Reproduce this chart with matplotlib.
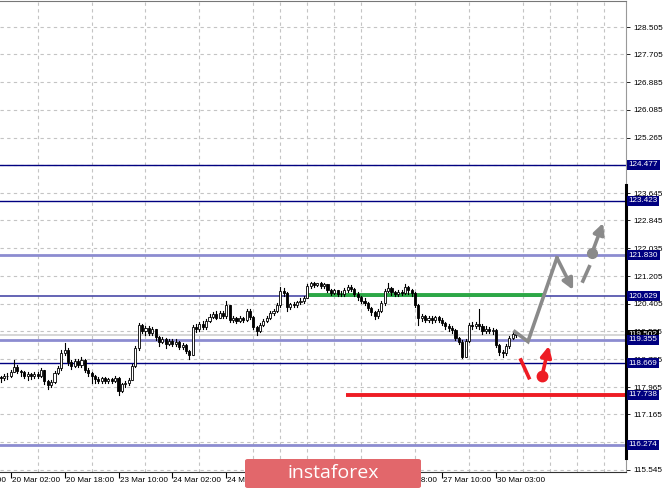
import matplotlib.pyplot as plt
import matplotlib.transforms as mtransforms
from matplotlib.patches import FancyBboxPatch

# H1 candles (open = previous close)
first_open = 118.26
closes = [118.22, 118.30, 118.28, 118.42, 118.56, 118.44, 118.40, 118.30, 118.34, 118.28,
          118.36, 118.30, 118.46, 118.15, 118.02, 118.12, 118.38, 118.52, 118.95, 119.05,
          118.70, 118.58, 118.72, 118.60, 118.76, 118.48, 118.38, 118.30, 118.20, 118.14,
          118.22, 118.15, 118.20, 118.15, 118.22, 117.85, 118.05, 118.08, 118.18, 118.58,
          119.10, 119.78, 119.62, 119.70, 119.55, 119.66, 119.42, 119.30, 119.36, 119.24,
          119.32, 119.22, 119.30, 119.14, 119.20, 119.02, 118.92, 119.72, 119.68, 119.82,
          119.72, 119.90, 120.02, 120.10, 120.00, 120.14, 120.06, 120.36, 119.92, 119.98,
          119.90, 119.98, 119.94, 120.18, 120.02, 119.72, 119.62, 119.78, 119.90, 120.00,
          120.14, 120.20, 120.36, 120.78, 120.72, 120.30, 120.40, 120.36, 120.46, 120.50,
          120.58, 120.92, 121.00, 120.96, 121.00, 120.94, 120.98, 120.80, 120.72, 120.80,
          120.70, 120.68, 120.80, 120.90, 120.84, 120.70, 120.60, 120.48, 120.44, 120.28,
          120.16, 120.04, 120.20, 120.42, 120.78, 120.86, 120.74, 120.70, 120.76, 120.72,
          120.90, 120.80, 120.72, 120.36, 119.98, 120.04, 119.94, 120.00, 119.92, 120.02,
          119.94, 119.84, 119.74, 119.70, 119.64, 119.40, 119.30, 118.86, 119.32, 119.78,
          119.74, 119.80, 119.76, 119.62, 119.68, 119.60, 119.64, 119.20, 119.00, 118.96,
          119.16, 119.40, 119.52, 119.50]
highs = [118.30, 118.36, 118.38, 118.48, 118.77, 118.60, 118.48, 118.44, 118.40, 118.38,
         118.42, 118.40, 118.52, 118.48, 118.18, 118.18, 118.44, 118.58, 119.05, 119.26,
         119.10, 118.75, 118.78, 118.80, 118.84, 118.78, 118.52, 118.40, 118.32, 118.26,
         118.26, 118.26, 118.24, 118.24, 118.30, 118.26, 118.10, 118.14, 118.22, 118.64,
         119.16, 119.85, 119.82, 119.76, 119.76, 119.72, 119.68, 119.46, 119.42, 119.40,
         119.38, 119.36, 119.36, 119.32, 119.26, 119.22, 119.06, 119.78, 119.80, 119.86,
         119.90, 119.96, 120.10, 120.16, 120.20, 120.20, 120.18, 120.50, 120.38, 120.04,
         120.02, 120.04, 120.02, 120.24, 120.26, 120.06, 119.76, 119.84, 119.96, 120.06,
         120.18, 120.26, 120.42, 120.90, 120.86, 120.76, 120.44, 120.46, 120.50, 120.56,
         120.62, 120.98, 121.04, 121.04, 121.02, 121.04, 121.02, 120.98, 120.84, 120.84,
         120.82, 120.78, 120.86, 120.96, 120.96, 120.86, 120.74, 120.64, 120.56, 120.46,
         120.32, 120.18, 120.24, 120.48, 120.84, 121.00, 120.90, 120.78, 120.80, 120.82,
         120.98, 120.92, 120.84, 120.74, 120.40, 120.10, 120.08, 120.06, 120.04, 120.06,
         120.06, 119.98, 119.88, 119.80, 119.76, 119.66, 119.44, 119.34, 119.38, 119.84,
         119.86, 119.86, 120.26, 119.80, 119.74, 119.72, 119.70, 119.66, 119.24, 119.06,
         119.22, 119.46, 119.58, 119.56]
lows = [118.12, 118.18, 118.20, 118.25, 118.40, 118.38, 118.30, 118.22, 118.18, 118.20,
        118.24, 118.22, 118.26, 118.05, 117.92, 117.98, 118.08, 118.34, 118.48, 118.90,
        118.62, 118.50, 118.55, 118.55, 118.56, 118.40, 118.30, 118.10, 118.08, 118.08,
        118.10, 118.10, 118.10, 118.08, 118.12, 117.73, 117.82, 117.98, 118.04, 118.16,
        118.55, 119.05, 119.55, 119.50, 119.50, 119.48, 119.35, 119.18, 119.26, 119.10,
        119.20, 119.18, 119.16, 119.08, 119.08, 118.96, 118.80, 118.90, 119.58, 119.62,
        119.66, 119.68, 119.86, 119.98, 119.96, 119.98, 120.00, 119.98, 119.86, 119.88,
        119.84, 119.88, 119.86, 119.90, 119.96, 119.66, 119.50, 119.58, 119.74, 119.86,
        119.96, 120.08, 120.16, 120.32, 120.64, 120.20, 120.26, 120.30, 120.32, 120.40,
        120.44, 120.56, 120.88, 120.90, 120.92, 120.88, 120.88, 120.74, 120.66, 120.68,
        120.62, 120.62, 120.64, 120.76, 120.78, 120.64, 120.52, 120.42, 120.36, 120.22,
        120.08, 119.97, 120.00, 120.16, 120.38, 120.74, 120.66, 120.62, 120.64, 120.66,
        120.68, 120.70, 120.62, 120.30, 119.78, 119.90, 119.86, 119.88, 119.84, 119.86,
        119.88, 119.78, 119.66, 119.62, 119.56, 119.34, 119.24, 118.83, 118.84, 119.28,
        119.66, 119.70, 119.68, 119.52, 119.56, 119.54, 119.52, 119.14, 118.92, 118.84,
        118.92, 119.12, 119.36, 119.44]
opens = [first_open] + closes[:-1]

# levels
dark_levels = [124.477, 123.423, 118.669]
light_levels = [121.830, 119.355, 116.274]
mid_level = 120.629
red_level = 117.738
green_level = 120.648
current_price = 119.50
box_levels = [124.477, 123.423, 121.830, 120.629, 119.355, 118.669, 117.738, 116.274]

# axis (labels hidden under the logo are left out)
ytick_vals = [128.505, 127.705, 126.885, 126.085, 125.265, 124.455, 123.645, 122.845,
              122.035, 121.205, 120.405, 119.595, 118.785, 117.965, 117.165, 116.355, 115.545]
xlabel_pos = [-13, 3, 19, 35, 51, 67, 115, 131, 147]
xlabel_txt = ["19 Mar 10:00", "20 Mar 02:00", "20 Mar 18:00", "23 Mar 10:00", "24 Mar 02:00",
              "24 Mar 18:00", "26 Mar 18:00", "27 Mar 10:00", "30 Mar 03:00"]
xgrid_pos = list(range(3, 186, 8))

# forecast drawings (bar index, price)
gray_x = [152.6, 156.5, 165.1]
gray_y = [119.59, 119.30, 121.75]
gray_tip = (169.9, 120.81)
gray_dash_x = [172.8, 174.7]
gray_dash_y = [121.07, 121.49]
gray_dot = (175.5, 121.89)
gray_tip2 = (178.8, 122.77)
red_x = [154.4, 156.8]
red_y = [118.76, 118.24]
red_dot = (160.7, 118.30)
red_tip = (162.7, 119.17)

font = "Liberation Sans"
fs = 5.9

fig = plt.figure(figsize=(6.65, 4.9), dpi=100)
ax = fig.add_axes([0, 18 / 490, 626 / 665, 471 / 490])

# grid
ax.set_yticks(ytick_vals)
ax.set_yticklabels(["" if v in (124.455, 116.355) else f"{v:.3f}" for v in ytick_vals],
                   fontsize=fs, family=font)
ax.yaxis.tick_right()
ax.tick_params(axis="y", length=3, width=0.6, pad=2, colors="black")
ax.set_xticks(xlabel_pos)
ax.set_xticklabels([])
ax.set_xticks(xgrid_pos, minor=True)
ax.tick_params(axis="x", which="major", length=4, width=0.8, direction="out")
ax.tick_params(axis="x", which="minor", length=0)
ax.grid(True, which="minor", axis="x", color="#c4c4c4", linestyle=(0, (3, 3)), linewidth=0.8)
ax.grid(True, which="major", axis="y", color="#c4c4c4", linestyle=(0, (3, 3)), linewidth=0.8)
ax.set_axisbelow(True)

ax.spines["left"].set_visible(False)
ax.spines["top"].set_color("#777777")
ax.spines["right"].set_color("#999999")
ax.spines["right"].set_linewidth(0.8)
ax.spines["bottom"].set_color("#333333")

# levels
ax.axhline(current_price, color="#cfcfcf", lw=1.2, zorder=1)
for lv in dark_levels:
    ax.axhline(lv, color="#000080", lw=1.0, zorder=1.5)
for lv in light_levels:
    ax.axhline(lv, color="#8c8cd0", lw=2.0, zorder=1.5)
ax.axhline(mid_level, color="#4a4aa8", lw=1.2, zorder=1.5)
ax.plot([102.5, 186], [red_level, red_level], color="#ee1c24", lw=2.8, zorder=2,
        solid_capstyle="butt")
ax.plot([91, 161], [green_level, green_level], color="#2ca845", lw=2.8, zorder=2,
        solid_capstyle="butt")

# candles
for i, (o, h, l, c) in enumerate(zip(opens, highs, lows, closes)):
    ax.plot([i, i], [l, h], color="black", lw=0.8, zorder=3)
    fc = "white" if c >= o else "black"
    ax.bar(i, max(abs(c - o), 0.01), bottom=min(o, c), width=0.62, color=fc,
           edgecolor="black", linewidth=0.6, zorder=3.5)

# forecast arrows
gray = "#8a8a8a"
ax.plot(gray_x, gray_y, color=gray, lw=2.6, zorder=4, solid_joinstyle="miter")
ax.annotate("", xy=gray_tip, xytext=(gray_x[-1], gray_y[-1]),
            arrowprops=dict(arrowstyle="-|>", color=gray, lw=2.6, mutation_scale=16,
                            shrinkA=0, shrinkB=0), zorder=4)
ax.plot(gray_dash_x, gray_dash_y, color=gray, lw=2.6, zorder=4)
ax.plot(*gray_dot, "o", color=gray, markersize=7, zorder=4)
ax.annotate("", xy=gray_tip2, xytext=gray_dot,
            arrowprops=dict(arrowstyle="-|>", color=gray, lw=2.6, mutation_scale=16,
                            shrinkA=0, shrinkB=0), zorder=4)
red = "#ee1c24"
ax.plot(red_x, red_y, color=red, lw=2.6, zorder=4)
ax.plot(*red_dot, "o", color=red, markersize=7.5, zorder=4)
ax.annotate("", xy=red_tip, xytext=red_dot,
            arrowprops=dict(arrowstyle="-|>", color=red, lw=2.6, mutation_scale=16,
                            shrinkA=0, shrinkB=0), zorder=4)

# limits after ticks, so the ticks do not widen them
ax.set_xlim(-0.18, 185.6)
ax.set_ylim(115.48, 129.27)

# price boxes on the right scale
trans_y = mtransforms.blended_transform_factory(ax.transAxes, ax.transData)
ax.text(1.004, current_price, "119.502", transform=trans_y, fontsize=fs, family=font,
        color="white", va="center", ha="left", clip_on=False, zorder=5,
        bbox=dict(boxstyle="square,pad=0.2", fc="black", ec="none"))
for lv in box_levels:
    ax.text(1.004, lv, f"{lv:.3f}", transform=trans_y, fontsize=fs, family=font,
            color="white", va="center", ha="left", clip_on=False, zorder=6,
            bbox=dict(boxstyle="square,pad=0.2", fc="#000080", ec="none"))

# thick right border segment
ax.plot([1, 1], [115.9, 123.88], transform=trans_y, color="black", lw=2.2,
        clip_on=False, zorder=5)

# time labels
trans_x = mtransforms.blended_transform_factory(ax.transData, ax.transAxes)
for p, t in zip(xlabel_pos, xlabel_txt):
    ax.text(p + 0.3, -0.011, t, transform=trans_x, fontsize=fs, family=font,
            va="top", ha="left", clip_on=False)

# logo
logo = FancyBboxPatch((245 / 665, 2 / 490), 176 / 665, 29 / 490,
                      boxstyle="round,pad=0,rounding_size=0.004",
                      transform=fig.transFigure, fc="#e2676b", ec="none", zorder=10)
fig.patches.append(logo)
fig.text(333 / 665, 17 / 490, "instaforex", color="white", fontsize=14,
         family="Open Sans", ha="center", va="center", zorder=11)

fig.savefig("out.png", dpi=100)
